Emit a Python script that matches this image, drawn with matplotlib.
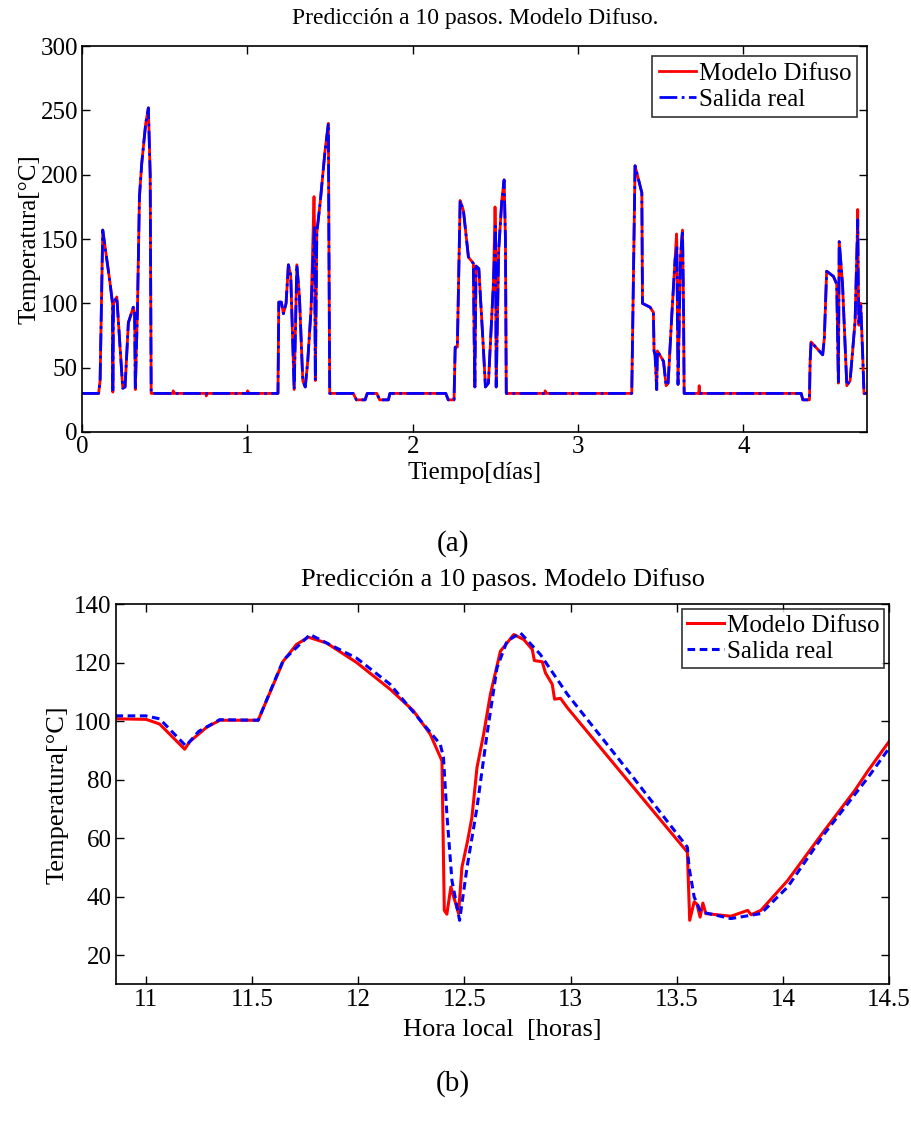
import matplotlib
matplotlib.use("Agg")
import matplotlib.pyplot as plt

plt.rcParams["font.family"] = ["Liberation Serif", "DejaVu Serif"]
plt.rcParams["mathtext.fontset"] = "stix"

# (a) five days, both series overlap almost everywhere
dias = [0.0, 0.10, 0.109, 0.125, 0.169, 0.184, 0.186, 0.19, 0.21, 0.23, 0.246, 0.26,
        0.28, 0.31, 0.318, 0.322, 0.335, 0.347, 0.361, 0.385, 0.401, 0.412, 0.418,
        0.55, 0.551, 0.56, 0.75, 0.751, 0.76, 1.0, 1.001, 1.01,
        1.185, 1.19, 1.205, 1.218, 1.234, 1.248, 1.262, 1.283, 1.299, 1.315, 1.335,
        1.35, 1.365, 1.385, 1.403, 1.406, 1.411, 1.42, 1.44, 1.47, 1.49, 1.493, 1.498,
        1.64, 1.66, 1.712, 1.725, 1.783, 1.80, 1.853, 1.862,
        2.20, 2.215, 2.25, 2.257, 2.27, 2.287, 2.307, 2.337, 2.367, 2.372, 2.376, 2.383,
        2.40, 2.428, 2.44, 2.458, 2.488, 2.498, 2.501, 2.505, 2.52, 2.539, 2.553, 2.561,
        2.566, 2.80, 2.801, 2.81,
        3.32, 3.325, 3.345, 3.386, 3.39, 3.436, 3.456, 3.46, 3.466, 3.476, 3.48, 3.517,
        3.533, 3.545, 3.567, 3.587, 3.596, 3.598, 3.605, 3.62, 3.632, 3.638, 3.642,
        3.73, 3.733, 3.736,
        4.35, 4.36, 4.40, 4.404, 4.41, 4.48, 4.49, 4.504, 4.545, 4.565, 4.572, 4.575,
        4.58, 4.60, 4.626, 4.646, 4.676, 4.689, 4.692, 4.695, 4.699, 4.71, 4.722,
        4.73, 4.75]
salida_a = [30, 30, 40, 157, 116, 100, 31, 100, 105, 66, 34, 35,
            85, 97, 92, 33, 95, 183, 209, 240, 252, 200, 30,
            30, 30, 30, 30, 30, 30, 30, 30, 30,
            30, 101, 101, 92, 100, 130, 122, 33, 130, 105, 40,
            35, 55, 95, 150, 160, 40, 155, 178, 219, 240, 150, 30,
            30, 25, 25, 30, 30, 25, 25, 30,
            30, 25, 25, 66, 66, 180, 172, 136, 131, 70, 35, 129,
            127, 64, 35, 38, 115, 150, 160, 35, 141, 180, 196, 150,
            30, 30, 30, 30,
            30, 30, 207, 186, 100, 97, 93, 63, 60, 33, 63, 55,
            36, 38, 90, 134, 140, 145, 37, 136, 157, 100, 30,
            30, 30, 30,
            30, 25, 25, 55, 70, 60, 73, 125, 121, 115, 60, 38,
            148, 115, 36, 40, 86, 150, 165, 120, 83, 100, 60,
            30, 30]
modelo_a = [30, 30, 40, 157, 116, 100, 31, 100, 105, 66, 34, 35,
            85, 97, 92, 33, 95, 183, 209, 240, 252, 200, 30,
            30, 32, 30, 30, 28, 30, 30, 32, 30,
            30, 101, 101, 92, 100, 130, 122, 33, 130, 105, 40,
            35, 55, 95, 183, 160, 40, 155, 178, 219, 240, 150, 30,
            30, 25, 25, 30, 30, 25, 25, 30,
            30, 25, 25, 66, 66, 180, 172, 136, 131, 70, 35, 129,
            127, 64, 35, 38, 115, 175, 160, 35, 141, 180, 196, 150,
            30, 30, 32, 30,
            30, 30, 207, 186, 100, 97, 93, 63, 60, 33, 63, 55,
            36, 38, 90, 134, 154, 145, 37, 136, 157, 100, 30,
            30, 36, 30,
            30, 25, 25, 55, 70, 60, 73, 125, 121, 115, 60, 38,
            148, 115, 36, 40, 86, 150, 173, 120, 83, 100, 60,
            30, 30]

# (b) zoom, hora local
hora_modelo = [10.858, 11.003, 11.066, 11.184, 11.208, 11.286, 11.349, 11.53, 11.648,
               11.71, 11.766, 11.852, 11.994, 12.151, 12.261, 12.34, 12.395, 12.406,
               12.418, 12.437, 12.473, 12.489, 12.516, 12.536, 12.56, 12.591, 12.623,
               12.67, 12.733, 12.78, 12.82, 12.83, 12.867, 12.882, 12.914, 12.925,
               12.953, 12.985, 13.283, 13.55, 13.561, 13.582, 13.595, 13.61, 13.623,
               13.637, 13.755, 13.834, 13.85, 13.896, 14.022, 14.195, 14.337, 14.4,
               14.502]
modelo_b = [100.8, 100.6, 99, 90.4, 93, 97.8, 100.3, 100.3, 120.5,
            126.2, 128.7, 126.7, 120, 110.9, 103.5, 95.5, 86.4, 35.3,
            34, 43.3, 34.2, 50, 59.2, 67.1, 84.2, 95.5, 109.2,
            123.9, 129.6, 127.9, 124.5, 120.7, 120.3, 116.5, 112.6, 107.5,
            107.8, 104.6, 78.5, 55.2, 31.9, 38.2, 37.5, 33, 37.8,
            34.2, 33.3, 35.3, 33.8, 35.3, 45.5, 62.6, 76.2, 83,
            93.3]
hora_real = [10.858, 11.0, 11.066, 11.19, 11.25, 11.349, 11.53, 11.648, 11.774,
             11.994, 12.151, 12.387, 12.402, 12.418, 12.442, 12.478, 12.513, 12.56,
             12.607, 12.654, 12.701, 12.764, 12.858, 12.985, 13.283, 13.55, 13.558,
             13.582, 13.613, 13.755, 13.896, 14.022, 14.195, 14.4, 14.502]
salida_b = [101.8, 101.8, 100.8, 91.5, 96.5, 100.5, 100.3, 120.8, 129.6,
            121.5, 112.6, 92.1, 87.6, 68.3, 45.5, 31.9, 50, 70.5,
            95.5, 118.2, 127.3, 130.2, 122.8, 109.2, 81.9, 56.9, 50,
            39.9, 34.8, 32.5, 34.2, 43.3, 61.5, 80.7, 91]

fig = plt.figure(figsize=(9.12, 11.25), dpi=100)

ax1 = fig.add_axes([0.090, 0.616, 0.861, 0.343])
ax1.plot(dias, modelo_a, color="red", lw=2.0, label="Modelo Difuso")
ax1.plot(dias, salida_a, color="blue", lw=2.0, ls="-.", label="Salida real")
ax1.set_xlim(0, 4.75)
ax1.set_ylim(0, 300)
ax1.set_xticks([0, 1, 2, 3, 4])
ax1.set_yticks(range(0, 301, 50))
ax1.set_title("Predicción a 10 pasos. Modelo Difuso.", fontsize=17, pad=16)
ax1.set_xlabel("Tiempo[días]", fontsize=18, labelpad=3)
ax1.set_ylabel("Temperatura[°C]", fontsize=18, labelpad=0)
ax1.legend(loc="upper right", fontsize=18, frameon=True, fancybox=False,
           edgecolor="black", handlelength=1.5, handletextpad=0.1,
           borderaxespad=0.4, borderpad=0.25, labelspacing=0.15)

ax2 = fig.add_axes([0.127, 0.125, 0.848, 0.338])
ax2.plot(hora_modelo, modelo_b, color="red", lw=2.2, label="Modelo Difuso")
ax2.plot(hora_real, salida_b, color="blue", lw=2.2, ls=(0, (2.5, 1.5)), label="Salida real")
ax2.set_xlim(10.86, 14.5)
ax2.set_ylim(10, 140)
ax2.set_xticks([11, 11.5, 12, 12.5, 13, 13.5, 14, 14.5])
ax2.set_xticklabels(["11", "11.5", "12", "12.5", "13", "13.5", "14", "14.5"])
ax2.set_yticks(range(20, 141, 20))
ax2.set_title("Predicción a 10 pasos. Modelo Difuso", fontsize=19, pad=13)
ax2.set_xlabel("Hora local  [horas]", fontsize=19, labelpad=6)
ax2.set_ylabel("Temperatura[°C]", fontsize=19, labelpad=4)
ax2.legend(loc="upper right", fontsize=18, frameon=True, fancybox=False,
           edgecolor="black", handlelength=1.5, handletextpad=0.1,
           borderaxespad=0.2, borderpad=0.2, labelspacing=0.15)

for ax in (ax1, ax2):
    ax.tick_params(direction="in", top=True, right=True, labelsize=18, length=6,
                   width=1, pad=3)
    for s in ax.spines.values():
        s.set_linewidth(1.2)
    ax.legend_.get_frame().set_linewidth(1.2)

fig.text(0.497, 0.517, "(a)", ha="center", va="center", fontsize=21)
fig.text(0.497, 0.037, "(b)", ha="center", va="center", fontsize=21)

fig.savefig("out.png", dpi=100)
